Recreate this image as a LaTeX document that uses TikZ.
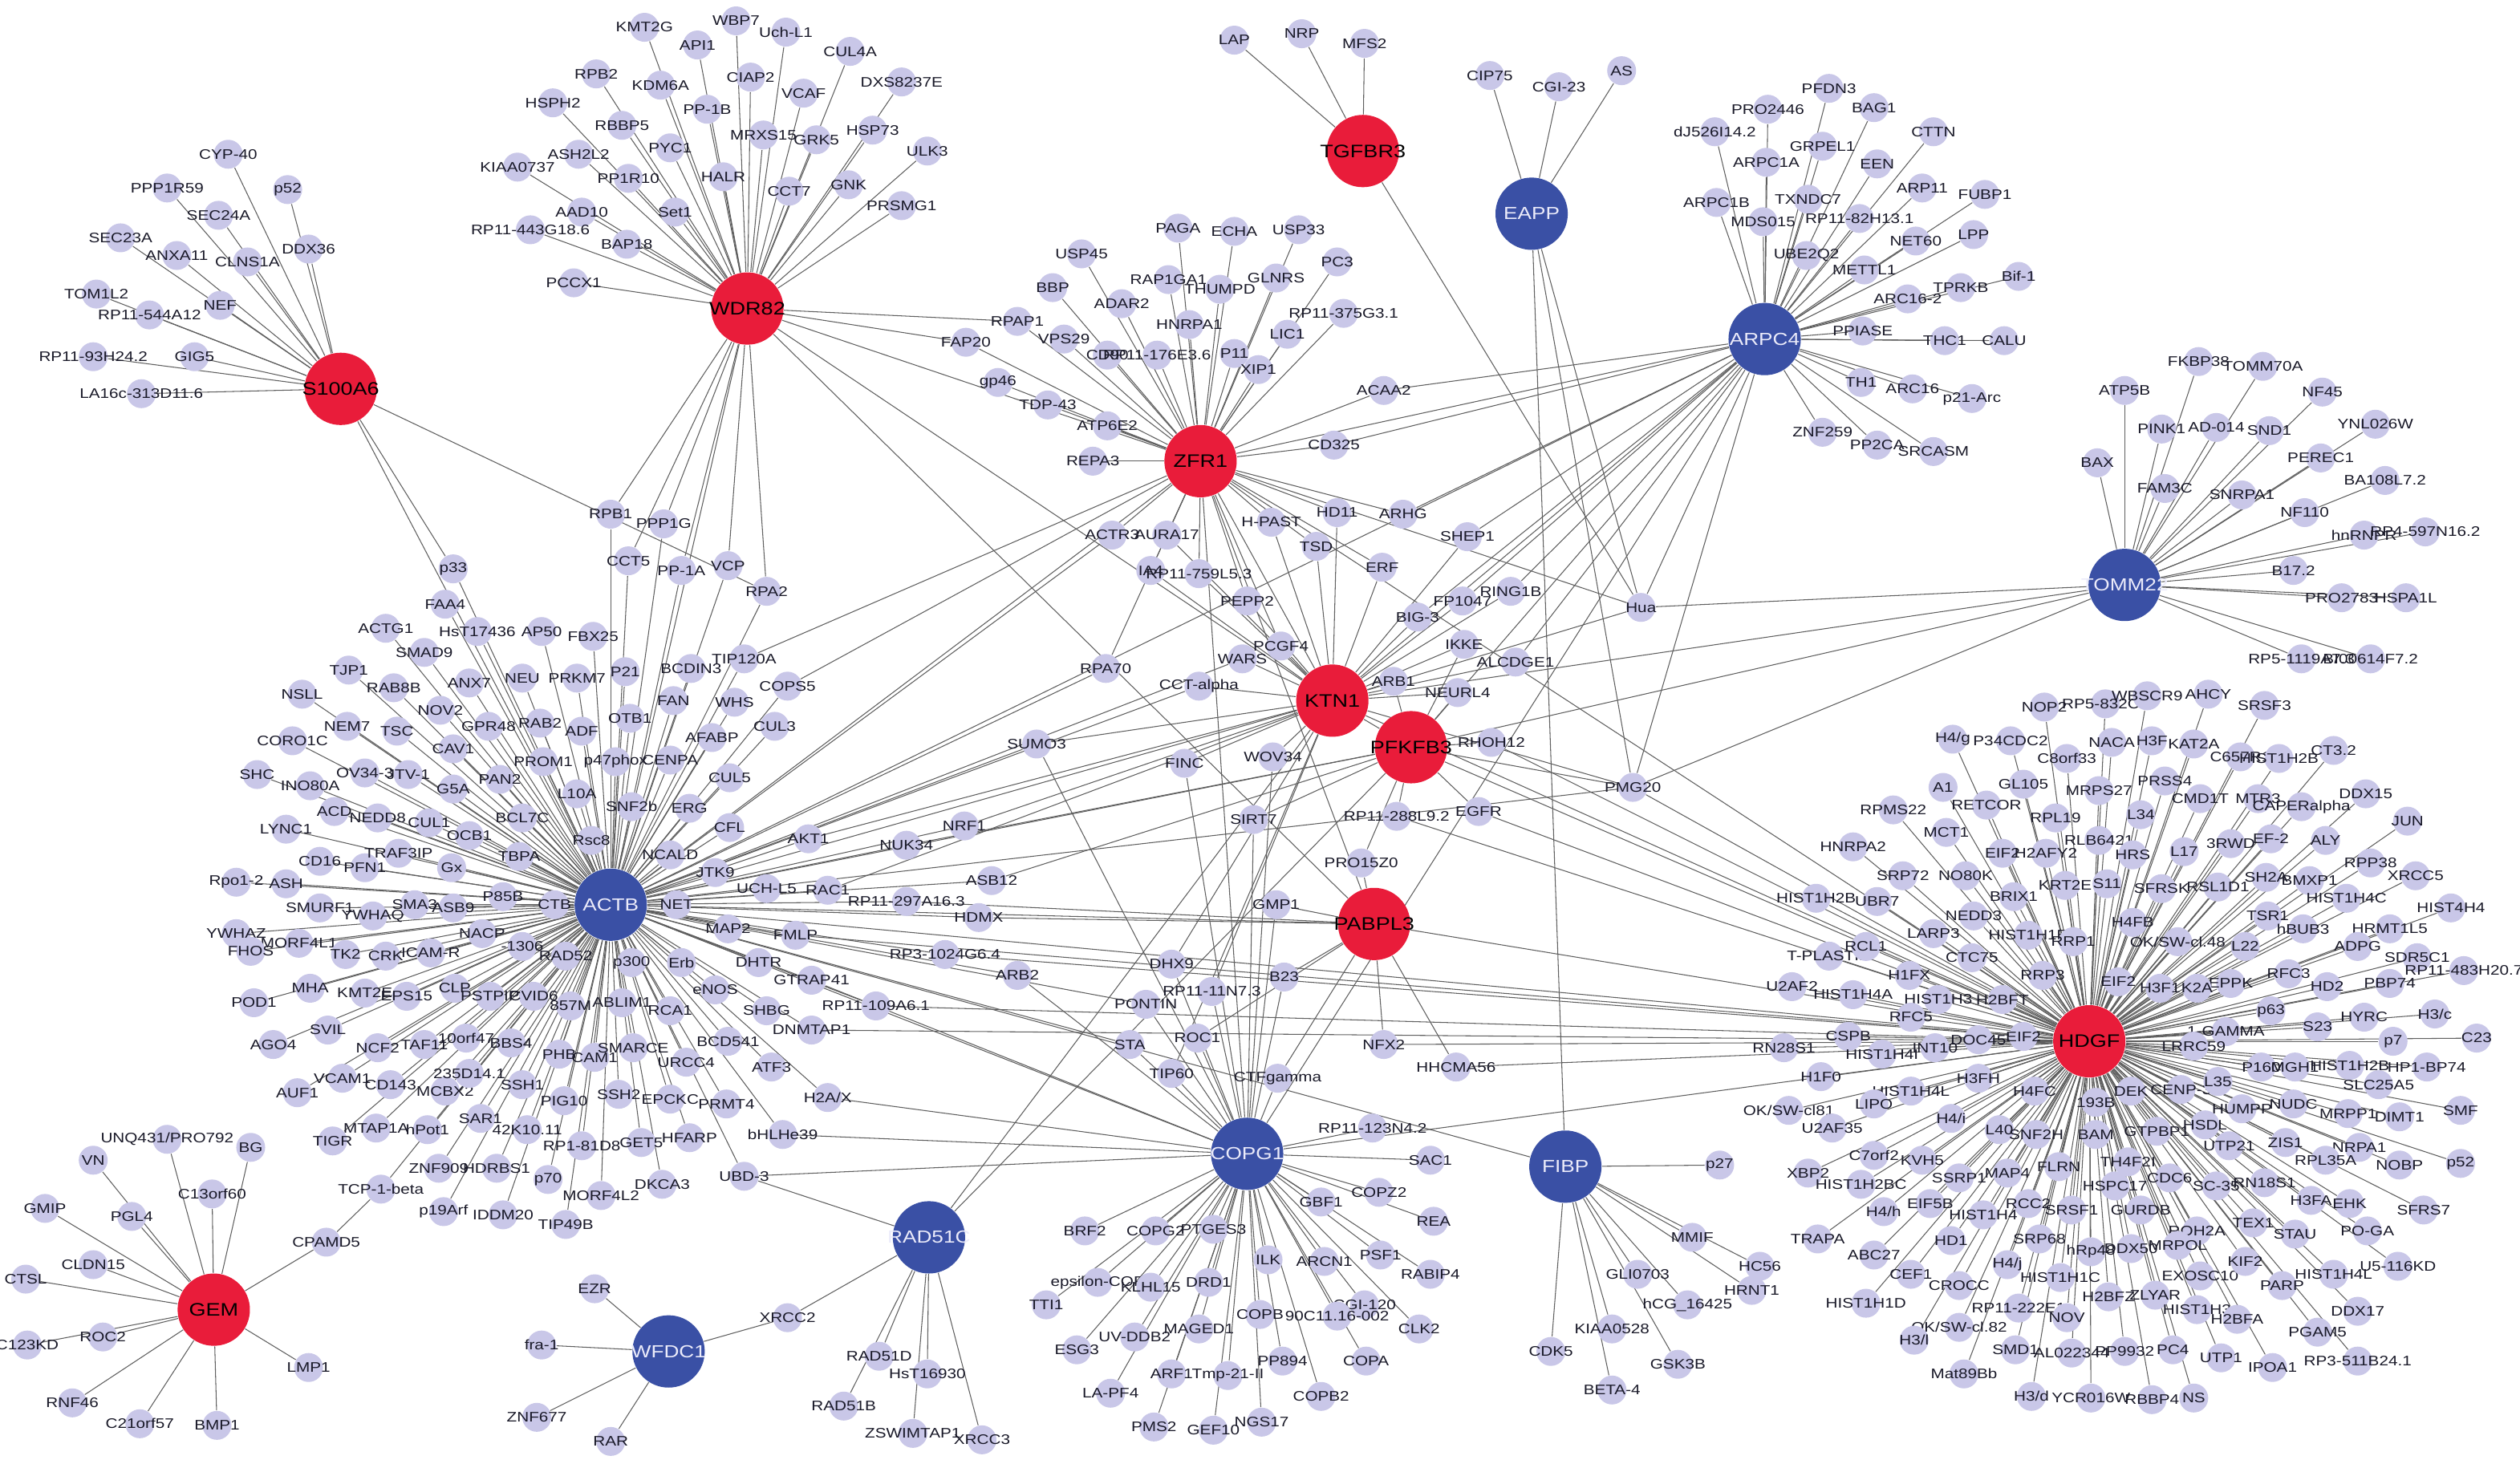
\documentclass[tikz,border=0pt]{standalone}
\usepackage{fontspec}
\setmainfont{Liberation Sans}
\newfontfamily\lblf{Liberation Sans}[FakeStretch=1.2]
\pgfdeclarelayer{bg}
\pgfdeclarelayer{top}
\pgfsetlayers{bg,main,top}
\definecolor{hubred}{RGB}{233,28,58}
\definecolor{hubblue}{RGB}{58,80,165}
\definecolor{lav}{RGB}{201,199,232}
\definecolor{edgec}{RGB}{95,95,95}
\definecolor{txt}{RGB}{25,25,40}
\definecolor{hubtxt}{RGB}{235,235,250}
\tikzset{
  leaf/.style={circle, fill=lav, minimum size=0.36cm, inner sep=0pt},
  lbl/.style={font=\lblf\fontsize{4.9}{5.4}\selectfont, text=txt, inner sep=0pt},
  hubR/.style={circle, fill=hubred, minimum size=0.9cm, inner sep=0pt},
  hubB/.style={circle, fill=hubblue, minimum size=0.9cm, inner sep=0pt},
  hubtxtR/.style={font=\lblf\fontsize{6.4}{7}\selectfont, text=black, inner sep=0pt},
  hubtxtB/.style={font=\lblf\fontsize{6.2}{7}\selectfont, text=hubtxt, inner sep=0pt},
  edge/.style={draw=edgec, line width=0.3pt}
}
\newcommand\placeleaves[2]{%
  \foreach \xx/\yy/\lab [count=\ii] in #2 {
    \node[leaf] (#1\ii) at (\xx,\yy) {};
    \node[lbl] at (#1\ii) {\lab};
  }}
\newcommand\leafedges[3]{%
  \foreach \xx/\yy/\lab [count=\ii] in #3 {\draw[edge] (#1) -- (#2\ii);}}

\def\listS{142/96/CYP-40, 179/118/p52, 104/117/PPP1R59, 136/134/SEC24A, 75/148/SEC23A, 110/159/ANXA11, 154/163/CLNS1A, 192/155/DDX36, 60/183/TOM1L2, 137/190/NEF, 93/196/RP11-544A12, 121/222/GIG5, 58/222/RP11-93H24.2, 88/245/LA16c-313D11.6}
\def\listW{401/17/KMT2G, 458/13/WBP7, 489/20/Uch-L1, 434/28/API1, 529/32/CUL4A, 371/46/RPB2, 411/53/KDM6A, 467/48/CIAP2, 561/51/DXS8237E, 344/64/HSPH2, 440/68/PP-1B, 500/58/VCAF, 387/78/RBBP5, 475/84/MRXS15, 508/87/GRK5, 543/81/HSP73, 417/92/PYC1, 360/96/ASH2L2, 577/94/ULK3, 322/104/KIAA0737, 391/111/PP1R10, 450/110/HALR, 491/119/CCT7, 528/115/GNK, 561/128/PRSMG1, 362/132/AAD10, 420/132/Set1, 330/143/RP11-443G18.6, 390/152/BAP18, 357/176/PCCX1}
\def\listB{768/25/LAP, 810/21/NRP, 849/27/MFS2}
\def\listE{927/47/CIP75, 970/54/CGI-23, 1009/44/AS}
\def\listR{1138/55/PFDN3, 1100/68/PRO2446, 1166/67/BAG1, 1067/82/dJ526I14.2, 1203/82/CTTN, 1134/91/GRPEL1, 1099/101/ARPC1A, 1168/102/EEN, 1196/117/ARP11, 1235/121/FUBP1, 1068/126/ARPC1B, 1125/124/TXNDC7, 1157/136/RP11-82H13.1, 1097/138/MDS015, 1192/150/NET60, 1228/146/LPP, 1124/159/UBE2Q2, 1160/168/METTL1, 1256/172/Bif-1, 1220/179/TPRKB, 1187/186/ARC16-2, 1159/206/PPIASE, 1210/212/THC1, 1247/212/CALU, 1158/238/TH1, 1190/242/ARC16, 1227/248/p21-Arc, 1134/269/ZNF259, 1168/277/PP2CA, 1203/281/SRCASM}
\def\listT{1322/243/ATP5B, 1368/225/FKBP38, 1408/228/TOMM70A, 1445/244/NF45, 1345/267/PINK1, 1379/266/AD-014, 1412/268/SND1, 1478/264/YNL026W, 1305/288/BAX, 1444/285/PEREC1, 1347/304/FAM3C, 1395/308/SNRPA1, 1484/299/BA108L7.2, 1434/319/NF110, 1471/333/hnRNPR, 1509/331/RP4-597N16.2, 1427/355/B17.2, 1457/372/PRO2783, 1497/372/HSPA1L, 1432/410/RP5-1119A7.3, 1475/410/BI00614F7.2}
\def\listZ{733/142/PAGA, 768/144/ECHA, 808/143/USP33, 673/158/USP45, 832/163/PC3, 655/179/BBP, 727/174/RAP1GA1, 759/180/THUMPD, 794/173/GLNRS, 698/189/ADAR2, 836/195/RP11-375G3.1, 740/202/HNRPA1, 801/208/LIC1, 662/211/VPS29, 689/221/CD90, 720/221/RP11-176E3.6, 768/220/P11, 783/230/XIP1, 621/238/gp46, 652/252/TDP-43, 689/265/ATP6E2, 680/287/REPA3}
\def\listA{277/376/FAA4, 240/391/ACTG1, 297/393/HsT17436, 337/393/AP50, 369/396/FBX25, 264/406/SMAD9, 217/417/TJP1, 325/422/NEU, 359/422/PRKM7, 389/418/P21, 430/416/BCDIN3, 245/428/RAB8B, 292/425/ANX7, 188/432/NSLL, 274/442/NOV2, 419/436/FAN, 457/437/WHS, 182/461/CORO1C, 216/452/NEM7, 247/455/TSC, 304/452/GPR48, 336/450/RAB2, 362/455/ADF, 392/447/OTB1, 443/459/AFABP, 482/452/CUL3, 282/466/CAV1, 338/474/PROM1, 383/474/p47phox, 417/473/CENPA, 227/481/OV34-3, 254/482/JTV-1, 193/489/INO80A, 282/491/G5A, 311/485/PAN2, 454/484/CUL5, 359/494/L10A, 208/505/ACD, 235/509/NEDD8, 267/512/CUL1, 393/502/SNF2b, 429/503/ERG, 325/509/BCL7C, 178/516/LYNC1, 454/515/CFL, 292/520/OCB1, 368/523/Rsc8, 199/536/CD16, 227/540/PFN1, 248/531/TRAF3IP, 281/540/Gx, 323/533/TBPA, 417/532/NCALD, 445/543/JTK9, 178/550/ASH, 477/553/UCH-L5, 199/565/SMURF1, 232/570/YWHAQ, 258/563/SMA3, 282/565/ASB9, 313/558/P85B, 345/563/CTB, 421/563/NET, 186/587/MORF4L1, 300/581/NACP, 325/589/-1306, 215/594/TK2, 240/595/CRK, 268/593/ICAM-R, 453/578/MAP2, 352/595/RAD52, 393/599/p300, 424/599/Erb, 472/599/DHTR, 193/615/MHA, 227/618/KMT2E, 253/620/EPS15, 283/615/CLP, 305/620/PSTPIP, 332/620/CVID6, 355/626/857M, 387/624/ABLIM1, 417/629/RCA1, 445/616/eNOS, 477/629/SHBG, 204/641/SVIL, 235/652/NCF2, 264/650/TAF11, 290/646/10orf47, 318/649/BBS4, 348/656/PHB, 370/658/CAM1, 394/652/SMARCE, 453/648/BCD541, 480/664/ATF3, 213/671/VCAM1, 243/675/CD143, 185/680/AUF1, 277/679/MCBX2, 292/668/235D14.1, 325/675/SSH1, 427/661/URCC4, 351/685/PIG10, 385/681/SSH2, 417/684/EPCKC, 452/687/PRMT4, 207/710/TIGR, 234/702/MTAP1A, 266/703/hPot1, 299/696/SAR1, 328/703/42K10.11, 362/713/RP1-81D8, 399/711/GET5, 429/708/HFARP, 273/727/ZNF909, 309/727/HDRBS1, 341/734/p70, 412/737/DKCA3, 374/744/MORF4L2, 276/754/p19Arf, 313/756/IDDM20, 352/762/TIP49B, 160/482/SHC, 147/549/Rpo1-2, 147/581/YWHAZ, 156/592/FHOS, 158/624/POD1, 170/650/AGO4}
\def\listD{1272/440/NOP2, 1310/438/RP5-832C2, 1336/433/WBSCR9, 1374/432/AHCY, 1409/439/SRSF3, 1215/460/{H4/g}, 1251/461/P34CDC2, 1314/462/NACA, 1339/461/H3F, 1365/463/KAT2A, 1286/472/C8orf33, 1394/471/C657R1, 1418/472/HIST1H2B, 1452/467/CT3.2, 1209/490/A1, 1259/488/GL105, 1306/492/MRPS27, 1347/486/PRSS4, 1472/494/DDX15, 1178/504/RPMS22, 1236/501/RETCOR, 1369/497/CMD1T, 1405/497/MTR3, 1432/502/CAPERalpha, 1498/511/JUN, 1211/518/MCT1, 1279/509/RPL19, 1332/507/L34, 1306/523/RLB6421, 1153/527/HNRPA2, 1246/531/EIF2, 1273/531/H2AFY2, 1327/532/HRS, 1359/530/L17, 1388/525/3RWD, 1413/522/EF-2, 1447/523/ALY, 1184/545/SRP72, 1223/545/NO80K, 1285/551/KRT2E, 1311/550/S11, 1345/553/SFRSK, 1380/552/RSL1D1, 1410/546/SH2A, 1437/548/BMXP1, 1475/537/RPP38, 1503/545/XRCC5, 1130/559/HIST1H2B, 1168/561/UBR7, 1253/558/BRIX1, 1460/559/HIST1H4C, 1525/565/HIST4H4, 1228/570/NEDD3, 1327/574/H4FB, 1411/570/TSR1, 1433/578/hBUB3, 1487/578/HRMT1L5, 1203/581/LARP3, 1262/582/HIST1H1E, 1290/586/RRP1, 1355/586/{OK/SW-cl.48}, 1397/589/L22, 1467/589/ADPG, 1504/596/SDR5C1, 1138/595/T-PLASTIN, 1161/589/RCL1, 1227/596/CTC75, 1188/607/H1FX, 1271/607/RRP3, 1318/611/EIF2, 1388/612/EPPK, 1424/606/RFC3, 1448/614/HD2, 1487/612/PBP74, 1533/604/RP11-483H20.7, 1115/614/U2AF2, 1153/619/HIST1H4A, 1206/622/HIST1H3, 1246/622/H2BFT, 1344/615/H3F1, 1367/615/K2A, 1413/629/p63, 1189/633/RFC5, 1442/639/S23, 1471/633/HYRC, 1515/631/{H3/c}, 1150/645/CSPB, 1110/652/RN28S1, 1171/656/HIST1H4I, 1204/652/INT10, 1231/647/DOC45, 1259/645/EIF2, 1385/642/1-GAMMA, 1365/651/LRRC59, 1489/648/p7, 1541/646/C23, 1133/670/H1F0, 1231/671/H3FH, 1407/664/P160, 1428/664/MGH1, 1462/663/HIST1H2B, 1510/664/HP1-BP74, 1189/679/HIST1H4L, 1266/679/H4FC, 1304/686/193B, 1326/679/DEK, 1357/678/CENP-3, 1380/673/L35, 1480/675/SLC25A5, 1113/691/{OK/SW-cl81}, 1166/687/LIPO, 1395/690/HUMPP, 1427/687/NUDC, 1461/693/MRPP1, 1493/695/DIMT1, 1531/691/SMF, 1140/702/U2AF35, 1214/696/{H4/i}, 1244/703/L40, 1267/706/SNF2H, 1304/706/BAM, 1342/704/GTPBP1, 1372/700/HSDL, 1422/711/ZIS1, 1125/730/XBP2, 1166/719/C7orf2, 1196/722/KVH5, 1387/713/UTP21, 1468/714/NRPA1, 1447/722/RPL35A, 1493/725/NOBP, 1531/724/p52, 1158/737/HIST1H2BC, 1219/733/SSRP1, 1249/730/MAP4, 1281/726/FLRN, 1324/723/TH4F2I, 1350/733/CDC6, 1379/738/SC-35, 1409/736/RN18S1, 1172/754/{H4/h}, 1201/749/EIF5B, 1234/756/HIST1H4, 1262/749/RCC2, 1316/738/HSPC17, 1289/753/SRSF1, 1332/753/GURDB, 1438/747/H3FA, 1462/749/EHK, 1508/753/SFRS7, 1131/771/TRAPA, 1214/772/HD1, 1269/771/SRP68, 1367/766/ROH2A, 1402/761/TEX1, 1428/768/STAU, 1473/766/PO-GA, 1166/781/ABC27, 1301/779/hRp48, 1326/777/DDX50, 1355/775/MRPOL, 1249/787/{H4/j}, 1282/795/HIST1H1C, 1369/794/EXOSC10, 1397/785/KIF2, 1492/788/U5-116KD, 1189/793/CEF1, 1219/800/CROCC, 1312/807/H2BFZ, 1341/806/ZLYAR, 1420/800/PARP, 1452/793/HIST1H4L, 1161/811/HIST1H1D, 1256/814/RP11-222E1, 1286/820/NOV, 1367/815/HIST1H3, 1392/821/H2BFA, 1467/816/DDX17, 1219/826/{OK/SW-cl.82}, 1191/834/{H3/l}, 1442/829/PGAM5, 1254/840/SMD1, 1289/842/AL022344, 1322/841/PP9932, 1352/840/PC4, 1382/845/UTP1, 1414/851/IPOA1, 1467/847/RP3-511B24.1, 1222/855/Mat89Bb, 1264/869/{H3/d}, 1301/870/YCR016W, 1339/871/RBBP4, 1365/870/NS}
\def\listC{854/702/RP11-123N4.2, 890/722/SAC1, 858/742/COPZ2, 822/748/GBF1, 892/760/REA, 675/766/BRF2, 719/766/COPG2, 755/765/PTGES3, 859/781/PSF1, 789/784/ILK, 824/785/ARCN1, 890/793/RABIP4, 683/798/epsilon-COP, 716/801/KLHL15, 752/798/DRD1, 651/812/TTI1, 849/812/CGI-120, 784/818/COPB, 832/819/90C11.16-002, 883/827/CLK2, 746/827/MAGED1, 706/832/UV-DDB2, 670/840/ESG3, 850/847/COPA, 798/847/PP894, 729/855/ARF1, 764/856/Tmp-21-II, 691/867/LA-PF4, 822/869/COPB2, 718/888/PMS2, 755/890/GEF10, 785/885/NGS17}
\def\listF{1070/725/p27, 1053/770/MMIF, 1095/788/HC56, 1090/803/HRNT1, 1019/793/GLI0703, 1050/812/hCG\_16425, 1003/827/KIAA0528, 965/841/CDK5, 1003/865/BETA-4, 1044/849/GSK3B}
\def\listX{370/802/EZR, 337/837/fra-1, 334/882/ZNF677, 380/897/RAR}
\def\listY{547/844/RAD51D, 577/855/HsT16930, 525/875/RAD51B, 568/892/ZSWIMTAP1, 611/896/XRCC3}
\def\listG{104/709/{UNQ431/PRO792}, 156/714/BG, 58/722/VN, 132/743/C13orf60, 28/752/GMIP, 82/757/PGL4, 58/787/CLDN15, 16/796/CTSL, 64/832/ROC2, 17/837/C123KD, 192/851/LMP1, 45/873/RNF46, 87/886/C21orf57, 135/887/BMP1}

\begin{document}
\begin{tikzpicture}[x=0.02cm,y=-0.02cm]
\useasboundingbox (0,0) rectangle (1568,911);

% hubs (circle plus its label, on the top layer)
\begin{pgfonlayer}{top}
\foreach \nn/\xx/\yy/\cc in {S100A6/212/242/R, WDR82/465/192/R, TGFBR3/848/94/R, EAPP/953/133/B, ZFR1/747/287/R, ARPC4/1098/211/B, TOMM22/1322/364/B, KTN1/829/436/R, PFKFB3/878/465/R, PABPL3/855/575/R, HDGF/1300/648/R, ACTB/380/563/B, COPG1/776/718/B, FIBP/974/726/B, RAD51C/578/770/B, WFDC1/416/841/B, GEM/133/815/R} {
  \node[hub\cc] (\nn) at (\xx,\yy) {};
  \node[hubtxt\cc] at (\nn) {\nn};
}
\end{pgfonlayer}

% named multi-connected nodes
\foreach \nn/\xx/\yy/\lab in {p33/282/354/p33, rpb1/380/320/RPB1, ppp1g/413/326/PPP1G, cct5/391/349/CCT5, pp1a/424/355/PP-1A, vcp/453/352/VCP, rpa2/477/368/RPA2, tip120a/463/410/TIP120A, cops5/490/427/COPS5, akt1/503/522/AKT1, nuk34/564/526/NUK34, rac1/515/554/RAC1, rp297/564/561/RP11-297A16.3, fmlp/495/582/FMLP, gtrap/505/610/GTRAP41, rp109/545/626/RP11-109A6.1, dnmtap/505/641/DNMTAP1, h2ax/515/683/{H2A/X}, bhlh/487/706/bHLHe39, ubd3/463/732/UBD-3, tcp1b/237/740/TCP-1-beta, cpamd5/203/773/CPAMD5, sumo3/645/463/SUMO3, nrf1/600/514/NRF1, asb12/617/548/ASB12, hdmx/609/571/HDMX, rp1024/588/594/RP3-1024G6.4, arb2/633/607/ARB2, finc/737/475/FINC, wov34/792/471/WOV34, sirt7/780/510/SIRT7, rp288/869/508/RP11-288L9.2, egfr/920/505/EGFR, pro15/847/537/PRO15Z0, gmp1/794/563/GMP1, dhx9/729/600/DHX9, b23/799/608/B23, rp11n7/754/617/RP11-11N7.3, pontin/713/625/PONTIN, sta/703/650/STA, roc1/745/646/ROC1, nfx2/861/650/NFX2, hhcma/906/664/HHCMA56, tip60/729/668/TIP60, ctfg/795/671/CTFgamma, rhoh12/928/462/RHOH12, pmg20/1016/490/PMG20, hua/1021/378/Hua, acaa2/861/243/ACAA2, cd325/830/277/CD325, rpap1/633/200/RPAP1, fap20/601/213/FAP20, hpast/791/325/H-PAST, hd11/832/319/HD11, arhg/873/320/ARHG, actr3/692/333/ACTR3, aura17/726/333/AURA17, shep1/913/334/SHEP1, tsd/819/340/TSD, erf/860/353/ERF, ia4/716/355/IA4, rp759/746/357/RP11-759L5.3, pepp2/776/374/PEPP2, ring1b/940/368/RING1B, fp1047/910/374/FP1047, big3/882/384/BIG-3, ikke/911/401/IKKE, pcgf4/797/402/PCGF4, wars/773/410/WARS, rpa70/688/416/RPA70, alcd/943/412/ALCDGE1, cctalpha/746/427/CCT-alpha, arb1/867/424/ARB1, neurl4/907/431/NEURL4, xrcc2/490/820/XRCC2} {
  \node[leaf] (\nn) at (\xx,\yy) {};
  \node[lbl] at (\nn) {\lab};
}

% leaves of each hub
\placeleaves{S}{\listS}
\placeleaves{W}{\listW}
\placeleaves{B}{\listB}
\placeleaves{E}{\listE}
\placeleaves{R}{\listR}
\placeleaves{T}{\listT}
\placeleaves{Z}{\listZ}
\placeleaves{A}{\listA}
\placeleaves{D}{\listD}
\placeleaves{C}{\listC}
\placeleaves{F}{\listF}
\placeleaves{X}{\listX}
\placeleaves{Y}{\listY}
\placeleaves{G}{\listG}

% all connectors, behind the nodes
\begin{pgfonlayer}{bg}
\leafedges{S100A6}{S}{\listS}
\leafedges{WDR82}{W}{\listW}
\leafedges{TGFBR3}{B}{\listB}
\leafedges{EAPP}{E}{\listE}
\leafedges{ARPC4}{R}{\listR}
\leafedges{TOMM22}{T}{\listT}
\leafedges{ZFR1}{Z}{\listZ}
\leafedges{ACTB}{A}{\listA}
\leafedges{HDGF}{D}{\listD}
\leafedges{COPG1}{C}{\listC}
\leafedges{FIBP}{F}{\listF}
\leafedges{WFDC1}{X}{\listX}
\leafedges{RAD51C}{Y}{\listY}
\leafedges{GEM}{G}{\listG}
\foreach \aa/\bb in {p33/S100A6, p33/ACTB, rpb1/WDR82, rpb1/ACTB, ppp1g/WDR82, ppp1g/ACTB, cct5/WDR82, cct5/ACTB, pp1a/WDR82, pp1a/ACTB, vcp/WDR82, vcp/ACTB, rpa2/WDR82, rpa2/ACTB, rpa2/S100A6, tip120a/ACTB, tip120a/ZFR1, cops5/ACTB, cops5/ZFR1, akt1/ACTB, akt1/KTN1, nuk34/ACTB, nuk34/PFKFB3, rac1/ACTB, rac1/KTN1, rp297/ACTB, rp297/PABPL3, fmlp/ACTB, fmlp/HDGF, gtrap/ACTB, gtrap/COPG1, rp109/ACTB, rp109/HDGF, dnmtap/ACTB, dnmtap/HDGF, h2ax/ACTB, h2ax/COPG1, bhlh/ACTB, bhlh/COPG1, ubd3/ACTB, ubd3/RAD51C, ubd3/COPG1, tcp1b/ACTB, cpamd5/GEM, cpamd5/tcp1b, sumo3/ACTB, sumo3/KTN1, sumo3/COPG1, nrf1/ACTB, nrf1/KTN1, asb12/ACTB, asb12/PFKFB3, hdmx/ACTB, hdmx/PABPL3, rp1024/ACTB, rp1024/HDGF, arb2/ACTB, arb2/COPG1, finc/KTN1, finc/COPG1, wov34/KTN1, wov34/COPG1, sirt7/PFKFB3, sirt7/COPG1, rp288/PFKFB3, rp288/HDGF, egfr/PFKFB3, egfr/HDGF, pro15/PFKFB3, pro15/PABPL3, gmp1/PABPL3, gmp1/COPG1, dhx9/COPG1, dhx9/KTN1, b23/COPG1, b23/PABPL3, rp11n7/COPG1, rp11n7/KTN1, pontin/COPG1, pontin/ACTB, sta/COPG1, sta/ACTB, roc1/COPG1, roc1/PABPL3, nfx2/PABPL3, nfx2/HDGF, hhcma/PABPL3, hhcma/HDGF, tip60/COPG1, tip60/KTN1, ctfg/COPG1, ctfg/PABPL3, rhoh12/PFKFB3, rhoh12/HDGF, pmg20/HDGF, pmg20/KTN1, pmg20/PFKFB3, pmg20/TOMM22, pmg20/ARPC4, pmg20/EAPP, pmg20/ACTB, hua/TGFBR3, hua/EAPP, hua/ARPC4, hua/TOMM22, hua/ZFR1, hua/KTN1, acaa2/ZFR1, acaa2/ARPC4, cd325/ZFR1, cd325/ARPC4, rpap1/ZFR1, rpap1/WDR82, fap20/ZFR1, fap20/WDR82, hpast/ZFR1, hpast/KTN1, hd11/ZFR1, hd11/KTN1, arhg/ZFR1, arhg/ARPC4, actr3/ZFR1, actr3/ACTB, aura17/ZFR1, aura17/KTN1, shep1/KTN1, shep1/ARPC4, tsd/ZFR1, tsd/KTN1, erf/ZFR1, erf/KTN1, ia4/ZFR1, ia4/KTN1, rp759/ZFR1, rp759/KTN1, pepp2/ZFR1, pepp2/KTN1, ring1b/KTN1, ring1b/ARPC4, fp1047/KTN1, fp1047/ARPC4, big3/KTN1, big3/ARPC4, ikke/KTN1, ikke/PFKFB3, pcgf4/KTN1, pcgf4/ZFR1, wars/KTN1, wars/ACTB, rpa70/ZFR1, rpa70/ACTB, alcd/KTN1, alcd/ARPC4, cctalpha/KTN1, cctalpha/ACTB, arb1/KTN1, arb1/PFKFB3, neurl4/KTN1, neurl4/PFKFB3, xrcc2/WFDC1, xrcc2/RAD51C, ZFR1/WDR82, ZFR1/ARPC4, ZFR1/HDGF, ZFR1/KTN1, KTN1/PFKFB3, KTN1/HDGF, PFKFB3/HDGF, PABPL3/HDGF, ACTB/HDGF, ARPC4/KTN1, ARPC4/ACTB, ARPC4/PFKFB3, WDR82/KTN1, WDR82/PABPL3, ACTB/FIBP, COPG1/HDGF, COPG1/ZFR1, RAD51C/KTN1, RAD51C/PFKFB3, S100A6/ACTB, EAPP/FIBP, ACTB/ZFR1, ACTB/KTN1, ACTB/PFKFB3, ACTB/PABPL3, ACTB/COPG1, WDR82/ACTB, TOMM22/KTN1, TOMM22/PFKFB3, ARPC4/COPG1, ZFR1/PABPL3}
  \draw[edge] (\aa) -- (\bb);
\end{pgfonlayer}
\end{tikzpicture}
\end{document}
